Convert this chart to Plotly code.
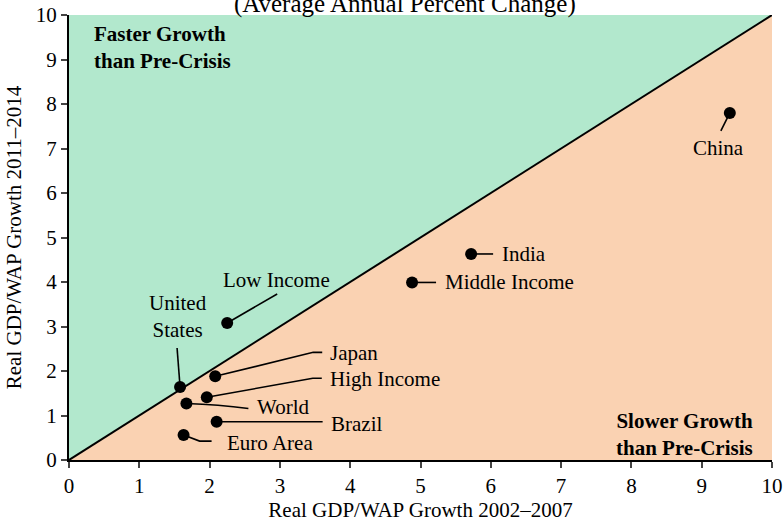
import plotly.graph_objects as go

# ---- data ----
regions = ["China", "India", "Middle Income", "Low Income", "United States",
           "Japan", "High Income", "World", "Brazil", "Euro Area"]
growth_2002_2007 = [9.40, 5.72, 4.88, 2.25, 1.58, 2.08, 1.96, 1.67, 2.10, 1.63]
growth_2011_2014 = [7.80, 4.63, 3.99, 3.08, 1.64, 1.88, 1.41, 1.27, 0.86, 0.56]
x_ticks = list(range(0, 11))
y_ticks = list(range(0, 11))

FONT = "Liberation Serif, Times New Roman, serif"
FS = 21
GREEN = "rgb(178,232,205)"
ORANGE = "rgb(250,210,178)"

# label placement (pixel offsets from dot) and leader paths (pixels, y up)
label_style = {
    "China":         dict(text="China", xshift=-11, yshift=-35, xanchor="center"),
    "India":         dict(text="India", xshift=29, yshift=0, xanchor="left"),
    "Middle Income": dict(text="Middle Income", xshift=31, yshift=0, xanchor="left"),
    "Low Income":    dict(text="Low Income", xshift=49, yshift=43, xanchor="center"),
    "United States": dict(text="United<br>States", xshift=-2, yshift=71, xanchor="center"),
    "Japan":         dict(text="Japan", xshift=113, yshift=23, xanchor="left"),
    "High Income":   dict(text="High Income", xshift=121, yshift=18, xanchor="left"),
    "World":         dict(text="World", xshift=69, yshift=-4, xanchor="left"),
    "Brazil":        dict(text="Brazil", xshift=112, yshift=-2, xanchor="left"),
    "Euro Area":     dict(text="Euro Area", xshift=41, yshift=-8, xanchor="left"),
}
leaders = {
    "China": "M0,0 L-9,-18",
    "India": "M0,0 L22,0",
    "Middle Income": "M0,0 L24,0",
    "Low Income": "M0,0 L50,29",
    "United States": "M0,0 L-3,39",
    "Japan": "M0,0 L98,24 L107,24",
    "High Income": "M0,0 L106,19 L115,19",
    "World": "M0,0 Q32,-1 62,-5",
    "Brazil": "M0,0 L106,0",
    "Euro Area": "M0,0 L16,-6 L28,-6",
}

fig = go.Figure()

# shaded regions
fig.add_trace(go.Scatter(x=[0, 0, 10, 0], y=[0, 10, 10, 0], fill="toself",
                         fillcolor=GREEN, line=dict(width=0), mode="lines",
                         hoverinfo="skip", showlegend=False))
fig.add_trace(go.Scatter(x=[0, 10, 10, 0], y=[0, 0, 10, 0], fill="toself",
                         fillcolor=ORANGE, line=dict(width=0), mode="lines",
                         hoverinfo="skip", showlegend=False))
# 45-degree line
fig.add_trace(go.Scatter(x=[0, 10], y=[0, 10], mode="lines",
                         line=dict(color="black", width=2),
                         hoverinfo="skip", showlegend=False))
# points
fig.add_trace(go.Scatter(x=growth_2002_2007, y=growth_2011_2014, mode="markers",
                         marker=dict(color="black", size=12),
                         text=regions, hovertemplate="%{text}: %{x}, %{y}<extra></extra>",
                         showlegend=False, cliponaxis=False))

shapes = []
annotations = []
for name, xv, yv in zip(regions, growth_2002_2007, growth_2011_2014):
    shapes.append(dict(type="path", xref="x", yref="y", xsizemode="pixel",
                       ysizemode="pixel", xanchor=xv, yanchor=yv,
                       path=leaders[name], line=dict(color="black", width=1.6),
                       layer="above"))
    st = label_style[name]
    annotations.append(dict(x=xv, y=yv, xref="x", yref="y", text=st["text"],
                            showarrow=False, xshift=st["xshift"], yshift=st["yshift"],
                            xanchor=st["xanchor"], yanchor="middle", align="center",
                            font=dict(family=FONT, size=FS, color="black")))

annotations.append(dict(x=0.33, y=9.27, xref="x", yref="y",
                        text="<b>Faster Growth<br>than Pre-Crisis</b>", showarrow=False,
                        xanchor="left", yanchor="middle", align="left",
                        font=dict(family=FONT, size=FS, color="black")))
annotations.append(dict(x=9.76, y=0.58, xref="x", yref="y",
                        text="<b>Slower Growth<br>than Pre-Crisis</b>", showarrow=False,
                        xanchor="right", yanchor="middle", align="right",
                        font=dict(family=FONT, size=FS, color="black")))
annotations.append(dict(x=0.478, y=1.025, xref="paper", yref="paper",
                        text="(Average Annual Percent Change)", showarrow=False,
                        xanchor="center", yanchor="middle",
                        font=dict(family=FONT, size=25, color="black")))

fig.update_layout(
    width=783, height=525,
    margin=dict(l=69, r=11, t=15, b=65, autoexpand=False),
    plot_bgcolor="white", paper_bgcolor="white",
    font=dict(family=FONT, size=FS, color="black"),
    shapes=shapes, annotations=annotations,
    xaxis=dict(range=[0, 10], tickvals=x_ticks, ticks="outside", ticklen=6,
               tickwidth=2, showline=True, linecolor="black", linewidth=2,
               showgrid=False, zeroline=False, tickfont=dict(size=FS), automargin=False,
               title=dict(text="Real GDP/WAP Growth 2002–2007", font=dict(size=FS), standoff=0)),
    yaxis=dict(range=[0, 10], tickvals=y_ticks, ticks="outside", ticklen=6,
               tickwidth=2, showline=True, linecolor="black", linewidth=2,
               showgrid=False, zeroline=False, tickfont=dict(size=FS), automargin=False,
               title=dict(text="Real GDP/WAP Growth 2011–2014", font=dict(size=FS), standoff=8)),
)

fig.write_html("out.html", config={"displayModeBar": False},
               post_script="document.body.style.margin='0px';document.body.style.overflow='hidden';")
